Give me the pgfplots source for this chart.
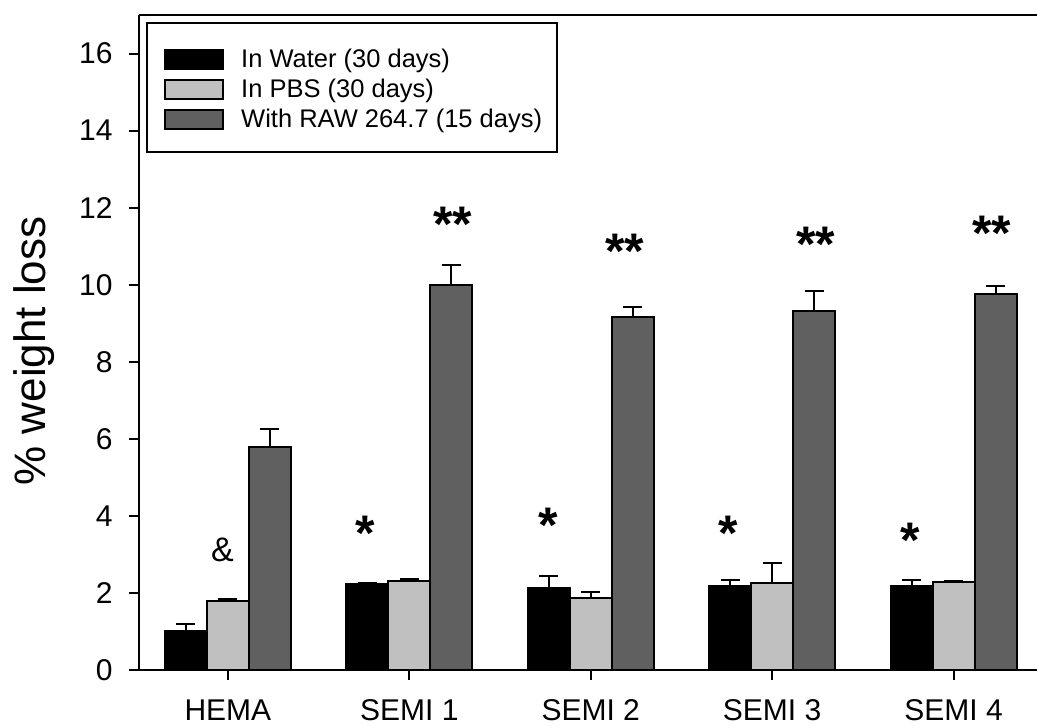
\documentclass[border=0pt]{standalone}
\usepackage{fontspec}
\setmainfont{Liberation Sans}
\usepackage{pgfplots}
\usepackage{pgfplotstable}
\pgfplotsset{compat=1.18}
\usetikzlibrary{calc}

\definecolor{lgray}{RGB}{192,192,192}
\definecolor{dgray}{RGB}{96,96,96}

\pgfplotsset{mylegend/.style={legend image code/.code={\draw[##1,draw=black,line width=2bp] (0bp,-9.5bp) rectangle (58bp,9.5bp);}}}

\pgfplotstableread{
x y e
0 1.02 0.18
1 2.24 0.03
2 2.12 0.31
3 2.18 0.16
4 2.18 0.16
}\water
\pgfplotstableread{
x y e
0 1.78 0.07
1 2.30 0.05
2 1.87 0.16
3 2.26 0.52
4 2.28 0.04
}\pbs
\pgfplotstableread{
x y e
0 5.78 0.47
1 10.00 0.52
2 9.17 0.26
3 9.33 0.51
4 9.76 0.21
}\raw

\begin{document}
\begin{tikzpicture}
\begin{axis}[
  scale only axis, width=898bp, height=655bp,
  xmin=-0.49, xmax=4.46, ymin=0, ymax=17,
  ybar=0pt, bar width=42bp,
  clip=false,
  axis x line*=bottom, axis y line*=left,
  axis line style={-, line width=2bp},
  xtick={0,1,2,3,4}, xticklabels={HEMA,SEMI 1,SEMI 2,SEMI 3,SEMI 4},
  ytick={0,2,...,16},
  tick align=outside, major tick length=10bp,
  tick style={line width=2bp, black},
  tick label style={font=\fontsize{30bp}{36bp}\selectfont},
  xticklabel style={yshift=-16bp},
  yticklabel style={xshift=-13bp},
  /pgf/number format/assume math mode=true,
  ylabel={\% weight loss},
  ylabel style={font=\fontsize{44bp}{52bp}\selectfont, at={(axis description cs:-0.117,0.487)}, anchor=center},
  legend style={at={(axis description cs:0,1)}, anchor=north west, xshift=8bp, yshift=-13bp,
    draw=none, fill=none, font=\fontsize{25.5bp}{30bp}\selectfont,
    inner xsep=17bp, inner ysep=19bp, row sep=6bp, column sep=15bp, nodes={inner ysep=2bp}},
  legend cell align=left,
  error bars/y dir=plus, error bars/y explicit,
  error bars/error bar style={line width=2bp, black},
  error bars/error mark options={rotate=90, mark size=9.5bp, line width=2bp, black},
]
\addplot[fill=black, draw=black, line width=2bp, mylegend] table[x=x, y=y, y error=e] {\water};
\addplot[fill=lgray, draw=black, line width=2bp, mylegend] table[x=x, y=y, y error=e] {\pbs};
\addplot[fill=dgray, draw=black, line width=2bp, mylegend] table[x=x, y=y, y error=e] {\raw};
\legend{In Water (30 days), In PBS (30 days), With RAW 264.7 (15 days)}
\draw[line width=2bp] (rel axis cs:0,1) -- (rel axis cs:1,1);
\draw[line width=1.5bp] (rel axis cs:0,1) ++(8bp,-8bp) rectangle ++(410bp,-129bp);
\begin{scope}[every node/.style={font=\fontsize{50bp}{60bp}\selectfont\bfseries, anchor=base, yshift=-29bp, inner sep=0pt}]
\node at (axis cs:1.24,11.87) {**};
\node at (axis cs:2.187,11.17) {**};
\node at (axis cs:3.24,11.35) {**};
\node at (axis cs:4.21,11.64) {**};
\node at (axis cs:0.755,3.85) {*};
\node at (axis cs:1.763,4.05) {*};
\node at (axis cs:2.76,3.85) {*};
\node at (axis cs:3.76,3.66) {*};
\end{scope}
\node[font=\fontsize{34bp}{40bp}\selectfont, anchor=base, yshift=-12bp, inner sep=0pt] at (axis cs:-0.03,3.14) {\&};
\end{axis}
\pgfresetboundingbox
\path ($(current axis.south west)+(-139bp,-56bp)$) rectangle ($(current axis.north east)+(0,15bp)$);
\end{tikzpicture}
\end{document}
